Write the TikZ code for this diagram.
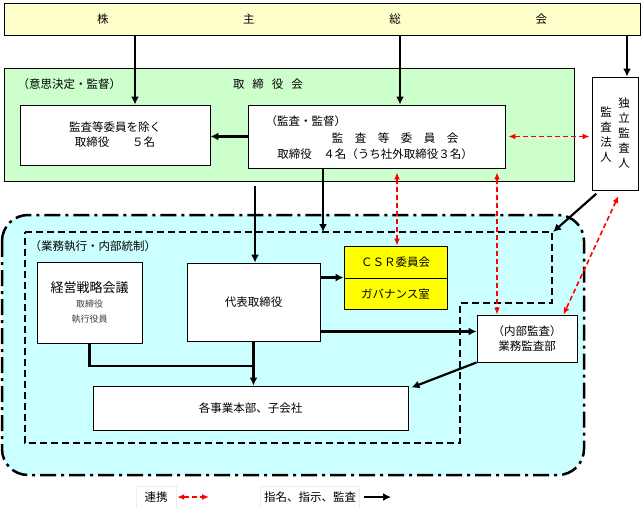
\documentclass[tikz,border=0pt]{standalone}
\usepackage{fontspec}
\setmainfont{Noto Sans CJK JP}
\usepackage{xcolor}
\usetikzlibrary{positioning,arrows.meta}
\definecolor{soukai}{HTML}{FFFFCC}
\definecolor{board}{HTML}{CCFFCC}
\definecolor{execarea}{HTML}{CCFFFF}
\definecolor{csr}{HTML}{FFFF00}
\newcommand{\smalltxt}{\fontsize{9}{12}\selectfont\color{darkgray}}
\tikzset{
  box/.style={draw, fill=white, line width=0.9pt, align=center, inner sep=0pt},
  coop/.style={red, line width=1.6pt, dash pattern=on 5pt off 3pt,
    {Latex[length=7pt,width=6pt]}-{Latex[length=7pt,width=6pt]}},
  cmd/.style={line width=2.2pt, -{Latex[length=8pt,width=8pt]}},
  ctrlarea/.style={line width=1.4pt, dash pattern=on 7pt off 4pt},
}

\begin{document}
\begin{tikzpicture}[x=1pt,y=-1pt,font=\fontsize{11.5}{15}\selectfont]
\useasboundingbox (0,0) rectangle (642,507);
% shareholders
\node[box,fill=soukai,minimum width=636pt,minimum height=32pt] (soukai) at (322,19)
  {\makebox[450pt]{株\hfill 主\hfill 総\hfill 会}};
% board of directors
\node[box,fill=board,minimum width=570pt,minimum height=113pt] (board) at (289,124.5) {};
\node[anchor=west] (boardlbl) at (14,84) {（意思決定・監督）};
\node (boardttl) at (268,84) {取\hspace{8pt}締\hspace{8pt}役\hspace{8pt}会};
\node[box,minimum width=190pt,minimum height=60pt] (dirs) at (115,135)
  {監査等委員を除く\\取締役\hspace{2em}５名};
\node[box,minimum width=257pt,minimum height=63pt] (ac) at (376.5,136.5) {};
\node[anchor=west] (aclbl) at (262,121) {（監査・監督）};
\node (acttl) at (395,138) {監　査　等　委　員　会};
\node (acmem) at (375,154) {取締役　４名（うち社外取締役３名）};
% external auditor
\node[box,minimum width=46pt,minimum height=113pt] (auditor) at (615,133.5) {};
\node[align=center] (auditorR) at (624,133) {独\\立\\監\\査\\人};
\node[align=center] (auditorL) at (606,135) {監\\査\\法\\人};
% execution area
\draw[fill=execarea,line width=2.5pt,dash pattern=on 16pt off 5pt on 3pt off 5pt,
  rounded corners=26pt] (2,215) rectangle (584,475);
\draw[ctrlarea] (25,232) -- (552,232) -- (552,303) -- (460,303) -- (460,443) -- (25,443) -- cycle;
\node[anchor=west] (execlbl) at (26,246) {（業務執行・内部統制）};
\node[box,minimum width=105pt,minimum height=81pt] (strat) at (89.5,302.5)
  {\fontsize{13}{16}\selectfont 経営戦略会議\\\smalltxt 取締役\\\smalltxt 執行役員};
\node[box,minimum width=133pt,minimum height=78pt] (rep) at (253.5,302) {代表取締役};
\node[box,fill=csr,minimum width=103pt,minimum height=32pt] (csr) at (395.5,262) {ＣＳＲ委員会};
\node[box,fill=csr,minimum width=103pt,minimum height=31pt] (gov) at (395.5,293.5) {ガバナンス室};
\node[box,minimum width=100pt,minimum height=47pt] (audit) at (527,338.5) {（内部監査）\\業務監査部};
\node[box,minimum width=315pt,minimum height=44pt] (bus) at (250.5,408) {各事業本部、子会社};
% legend
\node[draw=gray!15,minimum width=40pt,minimum height=22pt] (legcoop) at (156,497) {連携};
\node[draw=gray!15,minimum width=95pt,minimum height=22pt] (legcmd) at (310,497) {指名、指示、監査};
\coordinate (legcoopend) at (209,497);
\coordinate (legcmdend) at (391,497);
\draw[coop,shorten <=1pt] (legcoop.east) -- (legcoopend);
\draw[cmd,shorten <=4pt] (legcmd.east) -- (legcmdend);
% connectors
\coordinate (xa) at (135,0);
\coordinate (xb) at (400,0);
\coordinate (xc) at (627,0);
\coordinate (xd) at (255,0);
\coordinate (xe) at (323,0);
\coordinate (xf) at (397,0);
\coordinate (xg) at (497,0);
\coordinate (ctrltop) at (323,232);
\coordinate (ctrlcorner) at (553,232);
\coordinate (join) at (253.5,366);
\coordinate (auditin) at ([yshift=7pt]audit.west);
\draw[cmd] (xa |- soukai.south) -- (xa |- dirs.north);
\draw[cmd] (xb |- soukai.south) -- (xb |- ac.north);
\draw[cmd] (xc |- soukai.south) -- (xc |- auditor.north);
\draw[cmd] (ac.west) -- (ac.west -| dirs.east);
\draw[coop,shorten <=3pt,shorten >=2pt] (ac.east) -- (auditor.west |- ac.east);
\draw[cmd,shorten <=5pt] (xd |- board.south) -- (xd |- rep.north);
\draw[cmd] (xe |- ac.south) -- (ctrltop);
\draw[coop,shorten <=4pt] (xf |- ac.south) -- (xf |- csr.north);
\draw[coop,shorten <=4pt] (xg |- ac.south) -- (xg |- audit.north);
\draw[coop,shorten <=6pt] ([xshift=6pt]auditor.south) -- ([xshift=-14pt]audit.north east);
\draw[cmd,shorten <=5pt] ([xshift=-15pt]auditor.south) -- (ctrlcorner);
\draw[cmd] (rep.east |- gov.north) -- (gov.north west);
\draw[cmd] (rep.east |- auditin) -- (auditin);
\draw[line width=2.2pt] (strat.south) |- (join);
\draw[cmd] (rep.south) -- (rep.south |- bus.north);
\draw[cmd] (audit.south west) -- ([xshift=3pt,yshift=-2pt]bus.north east);
\end{tikzpicture}
\end{document}
